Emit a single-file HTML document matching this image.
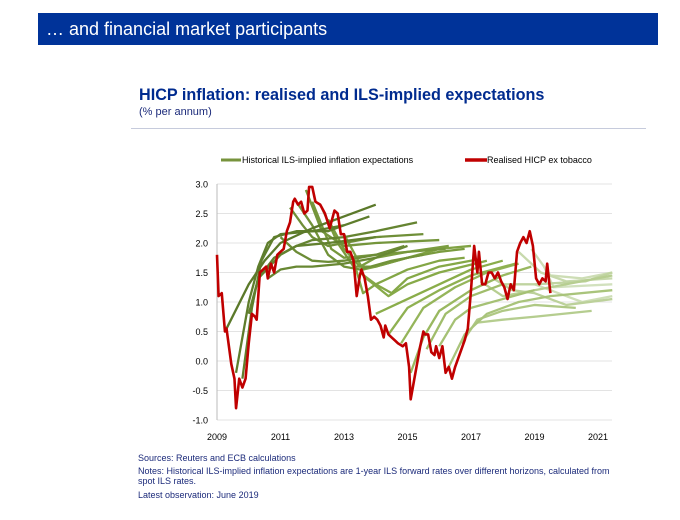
<!DOCTYPE html>
<html><head><meta charset="utf-8"><style>
body{margin:0;width:680px;height:520px;background:#fff;font-family:"Liberation Sans",sans-serif;position:relative;overflow:hidden}
.banner{position:absolute;left:38px;top:13px;width:620px;height:32px;background:#003399;color:#fff;font-size:18px;line-height:32px;padding-left:8px;box-sizing:border-box}
.title{position:absolute;left:139px;top:86px;font-size:16.2px;font-weight:bold;color:#002b8f}
.sub{position:absolute;left:139px;top:106px;font-size:11px;color:#1b2a7a}
.sep{position:absolute;left:131px;top:128px;width:515px;height:1px;background:#c6cbdc}
.notes{position:absolute;left:138px;font-size:9px;color:#1b2a7a;line-height:10px}
</style></head><body>
<div class="banner">… and financial market participants</div>
<div class="title">HICP inflation: realised and ILS-implied expectations</div>
<div class="sub">(% per annum)</div>
<div class="sep"></div>
<svg id="chart" width="680" height="520" style="position:absolute;left:0;top:0"></svg>
<div class="notes" style="top:453px">Sources: Reuters and ECB calculations</div>
<div class="notes" style="top:466px;width:486px">Notes: Historical ILS-implied inflation expectations are 1-year ILS forward rates over different horizons, calculated from spot ILS rates.</div>
<div class="notes" style="top:490px">Latest observation: June 2019</div>
<script>
const yTicks=[3.0,2.5,2.0,1.5,1.0,0.5,0.0,-0.5,-1.0];
const xTicks=[2009,2011,2013,2015,2017,2019,2021];
const realisedX=[2009.0,2009.05,2009.15,2009.25,2009.3,2009.45,2009.55,2009.6,2009.7,2009.8,2009.9,2010.0,2010.1,2010.2,2010.25,2010.35,2010.45,2010.55,2010.6,2010.7,2010.8,2010.9,2011.0,2011.1,2011.2,2011.3,2011.4,2011.45,2011.55,2011.65,2011.75,2011.85,2011.9,2012.0,2012.1,2012.25,2012.4,2012.55,2012.7,2012.8,2012.9,2013.0,2013.1,2013.2,2013.3,2013.4,2013.5,2013.55,2013.65,2013.75,2013.85,2013.95,2014.05,2014.15,2014.25,2014.3,2014.4,2014.5,2014.6,2014.7,2014.85,2014.95,2015.05,2015.1,2015.2,2015.3,2015.4,2015.5,2015.55,2015.65,2015.75,2015.85,2015.9,2016.0,2016.1,2016.2,2016.3,2016.4,2016.5,2016.6,2016.7,2016.8,2016.9,2017.0,2017.1,2017.2,2017.25,2017.35,2017.45,2017.55,2017.65,2017.75,2017.85,2017.95,2018.05,2018.15,2018.25,2018.35,2018.45,2018.55,2018.65,2018.75,2018.85,2018.95,2019.05,2019.15,2019.25,2019.35,2019.4,2019.5];
const realisedY=[1.8,1.1,1.15,0.5,0.55,-0.05,-0.3,-0.8,-0.3,-0.45,-0.3,0.3,0.8,0.75,0.7,1.5,1.55,1.6,1.4,1.65,1.5,1.8,1.85,1.9,2.2,2.35,2.7,2.75,2.65,2.7,2.5,2.55,2.95,2.95,2.7,2.65,2.5,2.25,2.55,2.5,2.15,2.15,1.85,1.85,1.7,1.1,1.45,1.55,1.4,1.1,0.7,0.75,0.7,0.6,0.4,0.6,0.45,0.4,0.35,0.3,0.25,0.3,-0.1,-0.65,-0.35,-0.05,0.25,0.5,0.45,0.45,0.15,0.1,0.25,0.05,0.25,-0.2,-0.1,-0.3,-0.1,0.05,0.2,0.35,0.55,1.2,1.95,1.5,1.85,1.3,1.3,1.5,1.5,1.4,1.5,1.35,1.25,1.05,1.3,1.2,1.85,2.0,2.1,2.0,2.2,1.95,1.4,1.3,1.4,1.35,1.65,1.15];
const curves=[
[[2009.3,0.55],[2010,1.3],[2010.5,1.7],[2011,2.0],[2012,2.25],[2013,2.45],[2014,2.65]],
[[2009.6,-0.2],[2010,1.0],[2010.3,1.6],[2010.6,2.0],[2011,2.15],[2012,2.2],[2013,2.3],[2013.8,2.45]],
[[2009.8,-0.3],[2010.1,0.9],[2010.4,1.7],[2010.8,2.1],[2011.5,2.2],[2012.5,2.2],[2013,2.3]],
[[2010.0,0.8],[2010.3,1.4],[2010.8,1.75],[2011.5,1.95],[2012.5,2.0],[2014,2.1]],
[[2010.3,1.4],[2011,1.8],[2011.5,1.95],[2012,2.05],[2013,2.1],[2014,2.2],[2015.3,2.35]],
[[2010.6,1.4],[2011,1.55],[2011.5,1.6],[2012,1.6],[2013,1.65],[2014,1.75],[2015,1.95]],
[[2011,2.1],[2011.5,1.85],[2012,1.7],[2012.5,1.68],[2013,1.7],[2014,1.8],[2014.9,1.95]],
[[2011.3,2.6],[2011.7,2.3],[2012,2.1],[2012.5,1.95],[2013,2.0],[2014,2.1],[2015.5,2.15]],
[[2011.5,2.7],[2012,2.3],[2012.5,1.8],[2013,1.6],[2013.5,1.55],[2014.5,1.7],[2015.5,1.8]],
[[2011.8,2.9],[2012.3,2.2],[2013,1.95],[2014,2.0],[2016,2.05]],
[[2012,2.7],[2012.6,1.9],[2013,1.75],[2014,1.8],[2015,1.85],[2016.2,1.9]],
[[2012.3,2.6],[2012.8,2.0],[2013.3,1.6],[2014,1.6],[2015,1.75],[2016,1.85],[2016.8,1.9]],
[[2012.5,2.4],[2013,1.9],[2013.5,1.6],[2014,1.75],[2015,1.85],[2016.3,1.95]],
[[2013,2.15],[2013.6,1.55],[2014,1.6],[2015,1.75],[2016,1.9],[2017,1.95]],
[[2013.3,1.7],[2013.6,1.15],[2014,1.3],[2015,1.55],[2016,1.7],[2016.8,1.75]],
[[2013.5,1.5],[2014,1.3],[2014.5,1.15],[2015,1.4],[2016,1.6],[2017.2,1.72]],
[[2013.7,1.4],[2014.4,1.1],[2015,1.3],[2016,1.5],[2017.5,1.7]],
[[2014,0.8],[2015,1.05],[2016,1.3],[2017,1.55],[2018,1.7]],
[[2014.4,0.45],[2015,0.9],[2016,1.2],[2017,1.45],[2018.4,1.65]],
[[2014.8,0.3],[2015.5,0.9],[2016.5,1.25],[2017.5,1.5],[2018.5,1.65]],
[[2015.1,-0.2],[2015.5,0.4],[2016,0.85],[2017,1.2],[2018,1.45],[2018.9,1.6]],
[[2015.6,0.2],[2016.2,0.8],[2017,1.1],[2018,1.3]],
[[2016,0.25],[2016.5,0.7],[2017,0.9],[2018,1.05],[2019,1.2]],
[[2016.3,-0.1],[2016.8,0.45],[2017.5,0.8],[2018.5,1.0],[2019.5,1.1],[2021.5,1.2]],
[[2016.7,0.3],[2017.2,0.7],[2018,0.85],[2019,0.95],[2020.3,0.9]],
[[2017.2,0.65],[2018,0.7],[2019,0.75],[2020.8,0.85]],
[[2017.3,1.35],[2018,1.1],[2019,1.2],[2020,1.3],[2021.5,1.45]],
[[2017.7,1.4],[2018.3,1.2],[2019,1.15],[2020,0.95],[2021.5,1.05]],
[[2018,1.3],[2019,1.3],[2020.6,1.35],[2021.5,1.5]],
[[2018.5,1.85],[2019.2,1.5],[2020,1.35],[2021.5,1.4]],
[[2018.9,1.9],[2019.5,1.45],[2020.5,1.4],[2021.5,1.5]],
[[2019,1.3],[2019.5,1.2],[2020.5,1.0],[2021.5,1.1]],
[[2019.3,1.6],[2019.6,1.25],[2021.5,1.3]]
];
const NS="http://www.w3.org/2000/svg",svg=document.getElementById('chart');
const X0=217,PX=31.75,Y0=184,PY=59,XR=612;
const xs=v=>X0+(v-2009)*PX, ys=v=>Y0+(3-v)*PY;
function mk(t,a){const e=document.createElementNS(NS,t);for(const k in a)e.setAttribute(k,a[k]);svg.appendChild(e);return e;}
yTicks.forEach(v=>{
 const g=mk('line',{x1:X0,x2:XR,y1:ys(v),y2:ys(v),stroke:'#e3e3e3','stroke-width':1});
 
 
 const t=mk('text',{x:208,y:ys(v)+3.5,'text-anchor':'end','font-size':9,fill:'#000'});t.textContent=v.toFixed(1);
 
 
});
const ax=mk('line',{x1:X0,x2:X0,y1:Y0,y2:ys(-1),stroke:'#bbb'});


xTicks.forEach(v=>{
 const t=mk('text',{x:xs(v),y:440,'text-anchor':'middle','font-size':9,fill:'#000'});t.textContent=v;
 
 
});
function col(y){const f=Math.max(0,Math.min(1,(y-2009)/10.3));
 const a=[88,118,40],b=[140,175,75],c=[210,225,190];let r;
 if(f<0.5){const g=f/0.5;r=a.map((v,i)=>v+(b[i]-v)*g)}else{const g=(f-0.5)/0.5;r=b.map((v,i)=>v+(c[i]-v)*g)}
 return `rgb(${r.map(Math.round).join(',')})`;}
curves.slice().reverse().forEach(c=>{
 const p=mk('polyline',{points:c.map(q=>xs(Math.min(q[0],2021.45))+','+ys(q[1])).join(' '),fill:'none',stroke:col(c[0][0]),'stroke-width':2.3,'stroke-linejoin':'round'});
 
 
});
const red=mk('polyline',{points:realisedX.map((x,i)=>xs(x)+','+ys(realisedY[i])).join(' '),fill:'none',stroke:'#c00000','stroke-width':2.6,'stroke-linejoin':'round'});


const l1=mk('line',{x1:221,x2:241,y1:160,y2:160,stroke:'#77933c','stroke-width':3});


const t1=mk('text',{x:242,y:163,'font-size':9,fill:'#000'});t1.textContent='Historical ILS-implied inflation expectations';


const l2=mk('line',{x1:465,x2:487,y1:160,y2:160,stroke:'#c00000','stroke-width':3.5});


const t2=mk('text',{x:487,y:163,'font-size':9,fill:'#000'});t2.textContent='Realised HICP ex tobacco';


</script>
</body></html>
